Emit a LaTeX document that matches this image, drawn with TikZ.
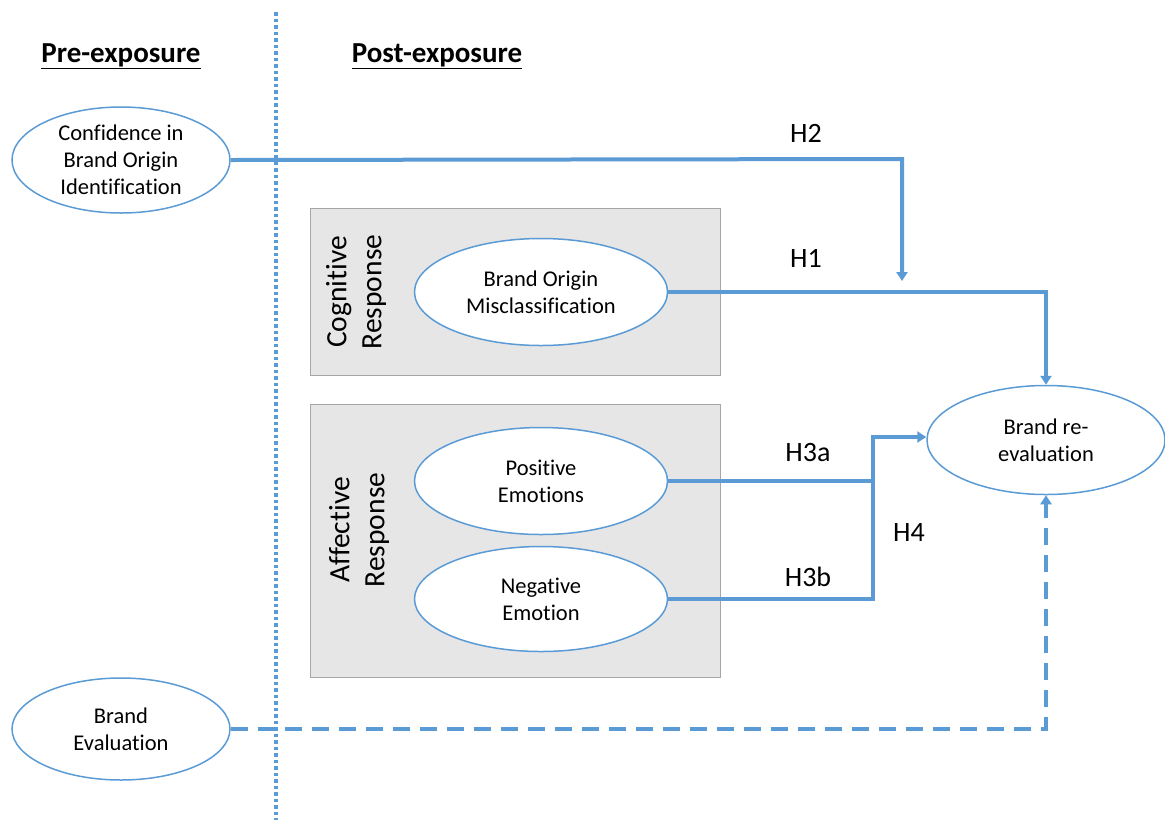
\documentclass[tikz,border=0pt]{standalone}
\usepackage{fontspec}
\setmainfont{Carlito}[Ligatures=NoCommon]
\usetikzlibrary{shapes.geometric,arrows.meta}
\definecolor{lblue}{HTML}{5B9BD5}
\definecolor{boxgray}{HTML}{E6E6E6}
\definecolor{boxline}{HTML}{A6A6A6}
\begin{document}
\begin{tikzpicture}[x=1pt,y=-1pt,
  oval/.style={ellipse,draw=lblue,line width=1.5pt,fill=white,inner sep=0pt,align=center,font=\fontsize{22.5}{27}\selectfont},
  grp/.style={draw=boxline,line width=0.9pt,fill=boxgray},
  conn/.style={draw=lblue,line width=4pt},
  tip/.style={-{Triangle[width=11pt,length=9pt]}},
  hlab/.style={font=\fontsize{28}{30}\selectfont},
  head/.style={font=\fontsize{29}{32}\selectfont\bfseries},
  side/.style={rotate=90,align=center,font=\fontsize{29.5}{35}\selectfont}]
\useasboundingbox (0,0) rectangle (1165,823);
% divider
\coordinate (dtop) at (276,12);
\coordinate (dbot) at (276,820);
\draw[draw=lblue,line width=3.5pt,dash pattern=on 3.5pt off 3pt] (dtop) -- (dbot);
% headings
\node[head] (pre) at (121,56) {\underline{Pre-exposure}};
\node[head] (post) at (437,56) {\underline{Post-exposure}};
% group boxes
\node[grp,minimum width=410pt,minimum height=167pt,inner sep=0pt] (cogbox) at (515,291.5) {};
\node[grp,minimum width=410pt,minimum height=273pt,inner sep=0pt] (affbox) at (515,540.5) {};
\node[side] (coglab) at (356,292) {Cognitive\\Response};
\node[side] (afflab) at (359,530) {Affective\\Response};
% ovals
\node[oval,minimum width=218pt,minimum height=106pt] (conf) at (121,160) {Confidence in\\Brand Origin\\Identification};
\node[oval,minimum width=253pt,minimum height=107pt] (mis) at (541,292) {Brand Origin\\Misclassification};
\node[oval,minimum width=253pt,minimum height=107pt] (pos) at (541,481) {Positive\\Emotions};
\node[oval,minimum width=253pt,minimum height=105pt] (neg) at (541,599) {Negative\\Emotion};
\node[oval,minimum width=238pt,minimum height=109pt] (reev) at (1046,440) {Brand re-\\evaluation};
\node[oval,minimum width=218pt,minimum height=102pt] (beval) at (121,729) {Brand\\Evaluation};
% connectors
\coordinate (h2c) at (902,159);
\coordinate (h2end) at (902,281);
\draw[conn,tip] (conf.east) -- (h2c) -- (h2end);
\draw[conn,tip] (mis.east) -- (mis.east -| reev.north) -- (reev.north);
\coordinate (junc) at (873,481);
\draw[conn] (pos.east) -- (junc);
\coordinate (jtop) at (873,437);
\draw[conn,tip] (neg.east) -- (neg.east -| jtop) -- (jtop) -- (reev.west |- jtop);
\draw[conn,tip,dash pattern=on 17pt off 10pt] (beval.east) -- (beval.east -| reev.south) -- (reev.south);
% labels
\node[hlab] (h2) at (806,133) {H2};
\node[hlab] (h1) at (806,258) {H1};
\node[hlab] (h3a) at (808,453) {H3a};
\node[hlab] (h3b) at (808,577) {H3b};
\node[hlab] (h4) at (909,532) {H4};
\end{tikzpicture}
\end{document}
